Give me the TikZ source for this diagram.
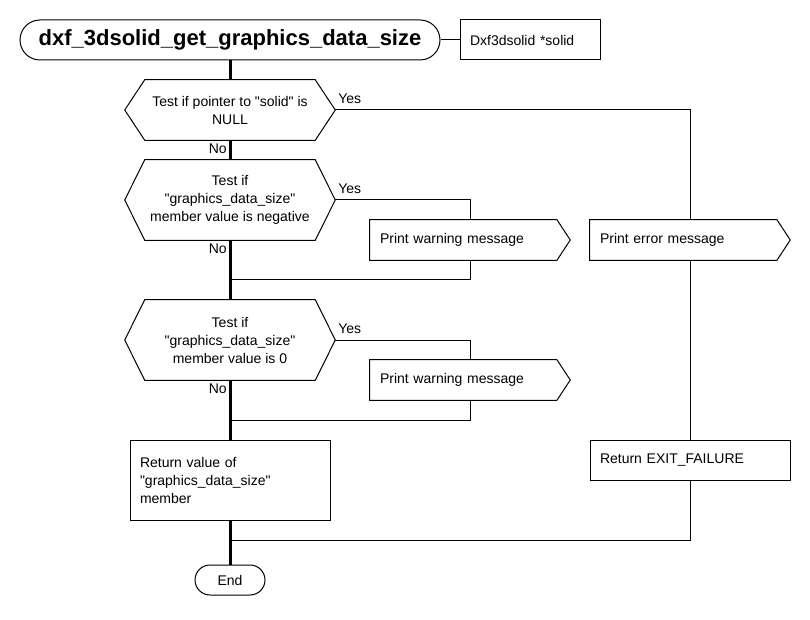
\documentclass[tikz,border=0pt]{standalone}
\usepackage{fontspec}
\setmainfont{Liberation Sans}
\newcommand\fsnorm{\fontsize{10.5pt}{13.5pt}\selectfont}
\newcommand\fstitle{\fontsize{16.5pt}{20pt}\selectfont\bfseries}
\newcommand\qq{\textquotedbl}
\newcommand\hexframe[1]{\draw[thin line] ([xshift=15pt]#1.north west) -- ([xshift=-15pt]#1.north east) -- (#1.east) -- ([xshift=-15pt]#1.south east) -- ([xshift=15pt]#1.south west) -- (#1.west) -- cycle;}
\newcommand\pentframe[1]{\draw[thin line] (#1.north west) -- ([xshift=-10pt]#1.north east) -- (#1.east) -- ([xshift=-10pt]#1.south east) -- (#1.south west) -- cycle;}
\begin{document}
\begin{tikzpicture}[x=0.75pt,y=-0.75pt,
  thin line/.style={line width=0.75pt, black},
  thick line/.style={line width=2.25pt, black},
  conn/.style={thin line},
  term/.style={draw, thin line, rounded corners=15pt, minimum width=315pt, minimum height=30pt, inner sep=0pt, font=\fstitle},
  endterm/.style={draw, thin line, rounded corners=11.25pt, minimum width=52.5pt, minimum height=22.5pt, inner sep=0pt, font=\fsnorm},
  lbox/.style={draw, thin line, minimum height=30pt, inner xsep=7.5pt, inner ysep=0pt, align=left, font=\fsnorm},
  hexnode/.style={minimum width=157.5pt, inner sep=0pt, align=center, font=\fsnorm},
  pentnode/.style={minimum height=30pt, text width=135pt, inner xsep=7.5pt, inner ysep=0pt, align=left, font=\fsnorm},
  lbl/.style={inner sep=0pt, font=\fsnorm}]
\useasboundingbox (0,0) rectangle (810,620);

% nodes
\node[term] (title) at (230,40) {dxf\_3dsolid\_get\_graphics\_data\_size};
\node[lbox, text width=90pt] (param) at (530,40) {Dxf3dsolid *solid};

\node[hexnode, minimum height=45pt] (h1) at (230,110) {Test if pointer to \qq solid\qq{} is\\NULL};
\node[hexnode, minimum height=60pt] (h2) at (230,200) {Test if\\\qq graphics\_data\_size\qq\\member value is negative};
\node[hexnode, minimum height=60pt] (h3) at (230,340) {Test if\\\qq graphics\_data\_size\qq\\member value is 0};
\hexframe{h1}
\hexframe{h2}
\hexframe{h3}

\node[pentnode] (w1) at (470,240) {Print warning message};
\node[pentnode] (w2) at (470,380) {Print warning message};
\node[pentnode] (err) at (690,240) {Print error message};
\pentframe{w1}
\pentframe{w2}
\pentframe{err}

\node[lbox, text width=135pt, minimum height=60pt] (ret) at (230,480) {Return value of\\\qq graphics\_data\_size\qq\\member};
\node[lbox, text width=135pt] (fail) at (690,460) {Return EXIT\_FAILURE};
\node[endterm] (end) at (230,580) {End};

% junction coordinates
\coordinate (j1) at (230,280);
\coordinate (j2) at (230,420);
\coordinate (j3) at (230,540);

% connectors
\draw[conn] (title.east) -- (param.west);
\draw[thick line] (title.south) -- (h1.north);
\draw[thick line] (h1.south) -- (h2.north);
\draw[thick line] (h2.south) -- (h3.north);
\draw[thick line] (h3.south) -- (ret.north);
\draw[thick line] (ret.south) -- (end.north);

\draw[conn] (h1.east) -| (err.north);
\draw[conn] (err.south) -- (fail.north);
\draw[conn] (fail.south) |- (j3);

\draw[conn] (h2.east) -| (w1.north);
\draw[conn] (w1.south) |- (j1);
\draw[conn] (h3.east) -| (w2.north);
\draw[conn] (w2.south) |- (j2);

% labels
\node[lbl, anchor=west] (y1) at (338,99) {Yes};
\node[lbl, anchor=west] (y2) at (338,189) {Yes};
\node[lbl, anchor=west] (y3) at (338,329) {Yes};
\node[lbl, anchor=east] (n1) at (227,149) {No};
\node[lbl, anchor=east] (n2) at (227,249) {No};
\node[lbl, anchor=east] (n3) at (227,389) {No};
\end{tikzpicture}
\end{document}
